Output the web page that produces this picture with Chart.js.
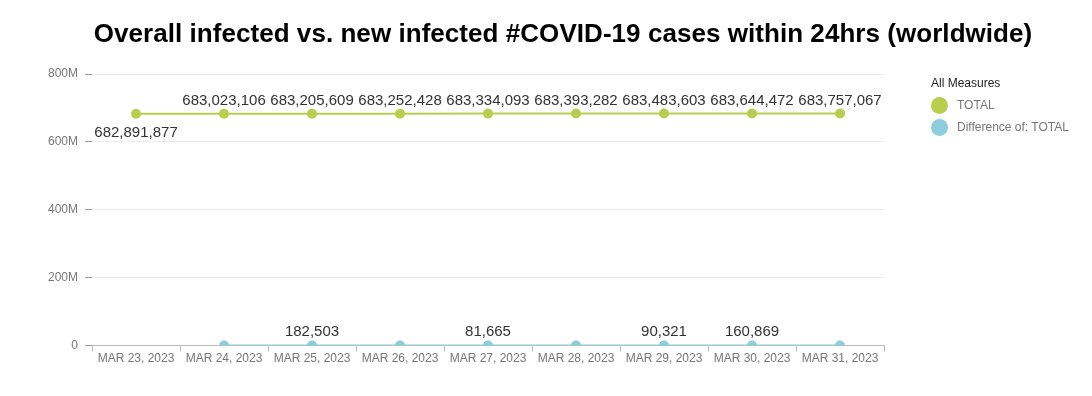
<!DOCTYPE html>
<html>
<head>
<meta charset="utf-8">
<script src="https://cdn.jsdelivr.net/npm/chart.js@4.4.0/dist/chart.umd.min.js"></script>
<style>
  body { margin: 0; background: #fff; font-family: "Liberation Sans", Arial, sans-serif; }
  #wrap { position: relative; width: 1092px; height: 396px; }
  #title { position: absolute; top: 18px; left: 34px; width: 1058px; text-align: center;
           font-weight: bold; font-size: 26px; color: #000; letter-spacing: 0.05px; }
  #legend { position: absolute; left: 931px; top: 76px; font-size: 12px; }
  #legend .head { color: #222; margin-bottom: 4px; }
  #legend .item { display: flex; align-items: center; height: 22px; color: #777; }
  #legend .dot { width: 17px; height: 17px; border-radius: 50%; margin-right: 9px; }
</style>
</head>
<body>
<div id="wrap">
  <div id="title">Overall infected vs. new infected #COVID-19 cases within 24hrs (worldwide)</div>
  <div id="legend"><div class="head">All Measures</div></div>
  <canvas id="chart"></canvas>
</div>
<script>
const dates = ["MAR 23, 2023", "MAR 24, 2023", "MAR 25, 2023", "MAR 26, 2023", "MAR 27, 2023",
  "MAR 28, 2023", "MAR 29, 2023", "MAR 30, 2023", "MAR 31, 2023"];
const totalCases = [682891877, 683023106, 683205609, 683252428, 683334093,
  683393282, 683483603, 683644472, 683757067];
const newCases = [null, 131229, 182503, 46819, 81665, 59189, 90321, 160869, 112595];
// only these daily values carry a label in the original
const newCasesLabelled = [2, 4, 6, 7];
const yTicks = [0, 200e6, 400e6, 600e6, 800e6];

const green = "#b9cd4f";
const blue = "#8ccedb";

const valueLabels = {
  id: "valueLabels",
  afterDatasetsDraw(chart) {
    const ctx = chart.ctx;
    ctx.save();
    ctx.font = "15px 'Liberation Sans', Arial, sans-serif";
    ctx.fillStyle = "#333";
    ctx.textAlign = "center";
    ctx.textBaseline = "middle";
    chart.getDatasetMeta(0).data.forEach((pt, i) => {
      const dy = i === 0 ? 19 : -13;
      ctx.fillText(totalCases[i].toLocaleString("en-US"), pt.x, pt.y + dy);
    });
    chart.getDatasetMeta(1).data.forEach((pt, i) => {
      if (!newCasesLabelled.includes(i)) return;
      ctx.fillText(newCases[i].toLocaleString("en-US"), pt.x, pt.y - 14);
    });
    ctx.restore();
  }
};

function renderChart() {
  const canvas = document.getElementById("chart");
  const chart = new Chart(canvas, {
    type: "line",
    data: {
      labels: dates,
      datasets: [{
        label: "TOTAL",
        data: totalCases,
        borderColor: green,
        backgroundColor: green,
        borderWidth: 2,
        pointRadius: 5,
        pointHoverRadius: 5,
        pointBorderWidth: 0
      }, {
        label: "Difference of: TOTAL",
        data: newCases,
        borderColor: blue,
        backgroundColor: blue,
        borderWidth: 2,
        pointRadius: 5,
        pointHoverRadius: 5,
        pointBorderWidth: 0
      }]
    },
    options: {
      responsive: true,
      maintainAspectRatio: false,
      animation: false,
      layout: { padding: { left: 41, right: 208, top: 74, bottom: 30 } },
      plugins: {
        legend: { display: false },
        tooltip: { enabled: false }
      },
      scales: {
        x: {
          offset: true,
          grid: { offset: true, drawOnChartArea: false, tickLength: 6, color: "#bbb" },
          border: { color: "#bbb" },
          ticks: { color: "#777", font: { size: 12, family: "'Liberation Sans', Arial" }, padding: 0, maxRotation: 0, autoSkip: false }
        },
        y: {
          min: 0,
          max: 800e6,
          afterBuildTicks(axis) { axis.ticks = yTicks.map(v => ({ value: v })); },
          grid: { color: "#ececec", tickColor: "#999", tickLength: 7 },
          border: { display: false },
          ticks: {
            color: "#777",
            padding: 7,
            font: { size: 12, family: "'Liberation Sans', Arial" },
            callback: v => v === 0 ? "0" : (v / 1e6) + "M"
          }
        }
      }
    },
    plugins: [valueLabels]
  });

  const legend = document.getElementById("legend");
  chart.data.datasets.forEach(ds => {
    const item = document.createElement("div");
    item.className = "item";
    item.innerHTML = '<span class="dot" style="background:' + ds.backgroundColor + '"></span>' + ds.label;
    legend.appendChild(item);
  });
}

document.addEventListener("DOMContentLoaded", renderChart);
</script>
</body>
</html>
